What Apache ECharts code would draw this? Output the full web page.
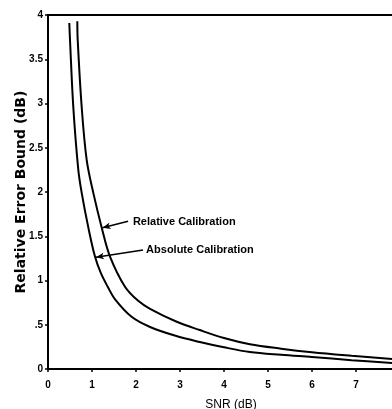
<!DOCTYPE html>
<html><head><meta charset="utf-8">
<script src="https://cdn.jsdelivr.net/npm/echarts@6/dist/echarts.min.js"></script>
<style>html,body{margin:0;padding:0;background:#fff}#c{width:392px;height:409px}</style>
</head><body><div id="c"></div>
<script>
var absX = [0.484, 0.50, 0.575, 0.689, 0.766, 0.916, 1.068, 1.20, 1.36, 1.52, 1.90, 2.32, 2.9, 3.45, 4.0, 4.59, 5.3, 6.0, 6.9, 7.82];
var absY = [3.91, 3.72, 2.96, 2.25, 1.99, 1.60, 1.27, 1.085, 0.927, 0.79, 0.59, 0.475, 0.375, 0.305, 0.245, 0.192, 0.16, 0.135, 0.10, 0.068];
var relX = [0.666, 0.675, 0.766, 0.88, 1.03, 1.22, 1.41, 1.75, 2.05, 2.32, 2.9, 3.45, 4.0, 4.59, 5.3, 6.0, 6.9, 7.82];
var relY = [3.93, 3.72, 2.96, 2.36, 1.99, 1.60, 1.27, 0.93, 0.77, 0.68, 0.54, 0.44, 0.35, 0.28, 0.23, 0.19, 0.15, 0.113];
var yTickLabels = {'0':'0','0.5':'.5','1':'1','1.5':'1.5','2':'2','2.5':'2.5','3':'3','3.5':'3.5','4':'4'};
var relLabel = 'Relative Calibration';
var absLabel = 'Absolute Calibration';

function zip(a, b) { return a.map(function (v, i) { return [v, b[i]]; }); }

var chart = echarts.init(document.getElementById('c'));
var lbl = {color:'#000', fontFamily:'Liberation Sans, Arial', fontWeight:'bold', fontSize:10};
chart.setOption({
  animation:false,
  backgroundColor:'#fff',
  grid:{left:48, right:0, top:15, bottom:40, containLabel:false, outerBoundsMode:'none'},
  xAxis:[{
    type:'value', min:0, max:7.82, interval:1,
    name:'SNR (dB)', nameLocation:'middle', nameGap:30, nameMoveOverlap:false,
    nameTextStyle:{color:'#000', fontFamily:'Liberation Sans, Arial', fontSize:12, padding:[0,0,0,22]},
    axisLine:{show:true, lineStyle:{color:'#000', width:2}},
    axisTick:{show:true, length:3, lineStyle:{color:'#000', width:1.5}},
    axisLabel:Object.assign({margin:11, showMaxLabel:false}, lbl),
    splitLine:{show:false}
  },{
    type:'value', position:'top', min:0, max:7.82,
    axisLine:{show:true, lineStyle:{color:'#000', width:2}},
    axisTick:{show:false}, axisLabel:{show:false}, splitLine:{show:false}
  }],
  yAxis:{
    type:'value', min:0, max:4, interval:0.5,
    name:'Relative Error Bound (dB)', nameLocation:'middle', nameGap:20, nameRotate:90, nameMoveOverlap:false,
    nameTextStyle:{color:'#000', fontFamily:'DejaVu Sans', fontWeight:'bold', fontSize:14},
    axisLine:{show:true, lineStyle:{color:'#000', width:2}},
    axisTick:{show:true, length:3, lineStyle:{color:'#000', width:1.5}},
    axisLabel:Object.assign({margin:5, formatter:function(v){return yTickLabels[String(v)] || String(v);}}, lbl),
    splitLine:{show:false}
  },
  series:[{
    name:'Relative Calibration', type:'line', data:zip(relX, relY), smooth:0.35,
    showSymbol:false, lineStyle:{color:'#000', width:2}, z:3,
    markLine:{silent:true, symbol:['none','arrow'], symbolSize:[5,8], label:{show:false},
      lineStyle:{color:'#000', width:1.5, type:'solid'},
      data:[[{coord:[1.82,1.67]},{coord:[1.24,1.595]}]]}
  },{
    name:'Absolute Calibration', type:'line', data:zip(absX, absY), smooth:0.35,
    showSymbol:false, lineStyle:{color:'#000', width:2}, z:3,
    markLine:{silent:true, symbol:['none','arrow'], symbolSize:[5,8], label:{show:false},
      lineStyle:{color:'#000', width:1.5, type:'solid'},
      data:[[{coord:[2.16,1.345]},{coord:[1.09,1.262]}]]}
  }]
});
var p1 = chart.convertToPixel({gridIndex:0}, [1.93, 1.66]);
var p2 = chart.convertToPixel({gridIndex:0}, [2.23, 1.345]);
chart.setOption({graphic:[
  {type:'text', x:p1[0], y:p1[1], style:{text:relLabel, fill:'#000', font:'bold 11px Liberation Sans, Arial', textVerticalAlign:'middle'}},
  {type:'text', x:p2[0], y:p2[1], style:{text:absLabel, fill:'#000', font:'bold 11px Liberation Sans, Arial', textVerticalAlign:'middle'}}
]});
</script></body></html>
